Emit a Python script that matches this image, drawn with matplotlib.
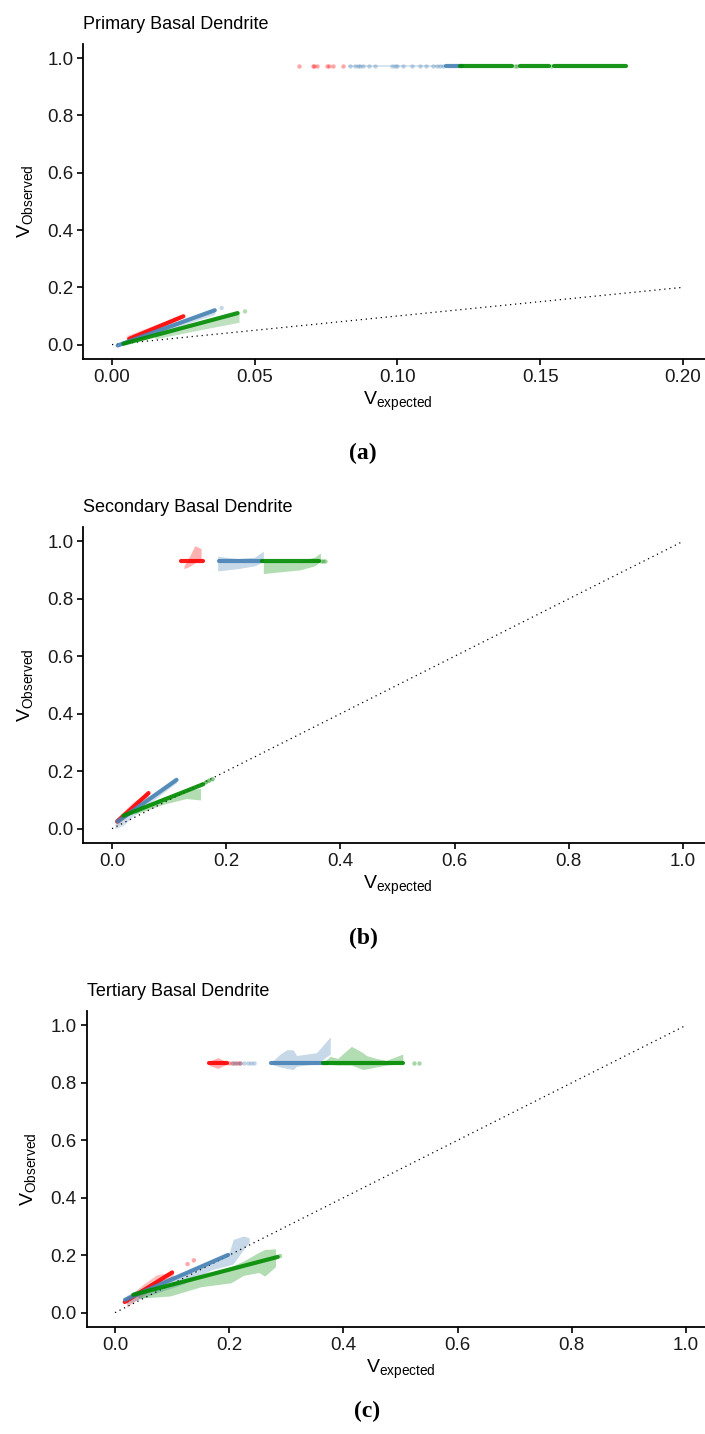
import matplotlib
matplotlib.use('Agg')
import matplotlib.pyplot as plt

plt.rcParams['font.family'] = ['Liberation Sans', 'DejaVu Sans']
plt.rcParams['mathtext.fontset'] = 'custom'
plt.rcParams['mathtext.rm'] = 'Liberation Sans'
plt.rcParams['mathtext.it'] = 'Liberation Sans:italic'

RED = '#FF0000'
BLUE = '#4682B4'
GREEN = '#008B00'

# ---------------- (a) Primary Basal Dendrite ----------------
a_title = 'Primary Basal Dendrite'
a_xticks = [0.00, 0.05, 0.10, 0.15, 0.20]
a_diag = [0.0, 0.2]
a_band_y = 0.972

a_red_low_x = [0.006, 0.025]
a_red_low_y = [0.020, 0.099]
a_blue_low_x = [0.002, 0.036]
a_blue_low_y = [-0.003, 0.120]
a_green_low_x = [0.004, 0.044]
a_green_low_y = [0.003, 0.110]
a_stray_x = [0.0384, 0.0466]
a_stray_y = [0.128, 0.116]
a_stray_c = [BLUE, GREEN]

a_red_rib_x = [0.005, 0.012, 0.024]
a_red_rib_lo = [0.008, 0.035, 0.090]
a_red_rib_hi = [0.032, 0.058, 0.102]
a_blue_rib_x = [0.010, 0.036]
a_blue_rib_lo = [0.020, 0.105]
a_blue_rib_hi = [0.035, 0.125]
a_green_rib_x = [0.015, 0.030, 0.0445]
a_green_rib_lo = [0.020, 0.050, 0.078]
a_green_rib_hi = [0.035, 0.075, 0.112]

a_red_dots = [0.0656, 0.0703, 0.0709, 0.0717, 0.0752, 0.0759, 0.0773, 0.0810]
a_blue_dots = [0.0834, 0.085, 0.086, 0.087, 0.088, 0.090, 0.092, 0.098, 0.099,
               0.100, 0.102, 0.105, 0.108, 0.110, 0.1125, 0.114, 0.115, 0.116]
a_blue_dense = [[0.117, 0.1225]]
a_blue_faint = [0.083, 0.122]
a_green_dense = [[0.122, 0.140], [0.143, 0.153], [0.155, 0.180]]
a_green_dots = [0.1412, 0.1420, 0.1538]

# ---------------- (b) Secondary Basal Dendrite ----------------
b_title = 'Secondary Basal Dendrite'
b_xticks = [0.0, 0.2, 0.4, 0.6, 0.8, 1.0]
b_diag = [0.0, 1.0]
b_band_y = 0.930

b_red_low_x = [0.009, 0.064]
b_red_low_y = [0.025, 0.124]
b_blue_low_x = [0.010, 0.113]
b_blue_low_y = [0.025, 0.170]
b_green_low_x = [0.020, 0.160]
b_green_low_y = [0.045, 0.155]
b_stray_x = [0.165, 0.170, 0.176]
b_stray_y = [0.162, 0.167, 0.172]
b_stray_c = [GREEN, GREEN, GREEN]

b_red_rib_x = [0.009, 0.035, 0.064]
b_red_rib_lo = [0.010, 0.060, 0.110]
b_red_rib_hi = [0.040, 0.090, 0.130]
b_blue_rib_x = [0.005, 0.020, 0.040, 0.080, 0.113]
b_blue_rib_lo = [0.000, 0.012, 0.050, 0.110, 0.160]
b_blue_rib_hi = [0.035, 0.050, 0.075, 0.130, 0.175]
b_green_rib_x = [0.040, 0.090, 0.130, 0.155]
b_green_rib_lo = [0.050, 0.085, 0.105, 0.100]
b_green_rib_hi = [0.070, 0.110, 0.135, 0.140]

b_red_dense = [[0.120, 0.159]]
b_red_dots = []
b_blue_dense = [[0.188, 0.262]]
b_blue_dots = []
b_green_dense = [[0.262, 0.362]]
b_green_dots = [0.366, 0.370, 0.373]

b_red_band_rib_x = [0.126, 0.135, 0.145, 0.156]
b_red_band_rib_lo = [0.905, 0.912, 0.925, 0.935]
b_red_band_rib_hi = [0.915, 0.945, 0.985, 0.975]
b_blue_band_rib_x = [0.185, 0.220, 0.250, 0.265]
b_blue_band_rib_lo = [0.897, 0.905, 0.915, 0.930]
b_blue_band_rib_hi = [0.948, 0.940, 0.945, 0.966]
b_green_band_rib_x = [0.265, 0.300, 0.330, 0.355, 0.365]
b_green_band_rib_lo = [0.888, 0.895, 0.901, 0.915, 0.930]
b_green_band_rib_hi = [0.930, 0.930, 0.932, 0.945, 0.960]

# ---------------- (c) Tertiary Basal Dendrite ----------------
c_title = 'Tertiary Basal Dendrite'
c_xticks = [0.0, 0.2, 0.4, 0.6, 0.8, 1.0]
c_diag = [0.0, 1.0]
c_band_y = 0.869

c_red_low_x = [0.017, 0.100]
c_red_low_y = [0.037, 0.140]
c_blue_low_x = [0.0175, 0.198]
c_blue_low_y = [0.045, 0.201]
c_green_low_x = [0.032, 0.285]
c_green_low_y = [0.0625, 0.194]
c_stray_x = [0.127, 0.138, 0.289]
c_stray_y = [0.169, 0.182, 0.197]
c_stray_c = [RED, RED, GREEN]

c_red_rib_x = [0.020, 0.050, 0.073, 0.102]
c_red_rib_lo = [0.020, 0.060, 0.090, 0.120]
c_red_rib_hi = [0.050, 0.100, 0.132, 0.142]
c_blue_rib_x = [0.020, 0.060, 0.120, 0.170, 0.200, 0.207, 0.225, 0.235]
c_blue_rib_lo = [0.030, 0.060, 0.100, 0.150, 0.165, 0.170, 0.220, 0.245]
c_blue_rib_hi = [0.060, 0.100, 0.140, 0.185, 0.210, 0.255, 0.267, 0.260]
c_green_rib_x = [0.040, 0.096, 0.150, 0.203, 0.225, 0.252, 0.262, 0.281]
c_green_rib_lo = [0.050, 0.058, 0.090, 0.104, 0.130, 0.140, 0.127, 0.160]
c_green_rib_hi = [0.070, 0.100, 0.130, 0.160, 0.180, 0.210, 0.220, 0.222]

c_red_dense = [[0.165, 0.196]]
c_red_dots = [0.200, 0.205, 0.210, 0.215, 0.219]
c_blue_dense = [[0.273, 0.371]]
c_blue_dots = [0.206, 0.212, 0.219, 0.225, 0.232, 0.238, 0.243]
c_green_dense = [[0.365, 0.505]]
c_green_dots = [0.524, 0.533]

c_red_band_rib_x = [0.165, 0.180, 0.196]
c_red_band_rib_lo = [0.860, 0.850, 0.865]
c_red_band_rib_hi = [0.875, 0.888, 0.872]
c_blue_band_rib_x = [0.274, 0.289, 0.301, 0.312, 0.318, 0.353, 0.377]
c_blue_band_rib_lo = [0.865, 0.855, 0.850, 0.846, 0.858, 0.866, 0.900]
c_blue_band_rib_hi = [0.872, 0.900, 0.915, 0.915, 0.895, 0.905, 0.960]
c_green_band_rib_x = [0.365, 0.377, 0.390, 0.414, 0.434, 0.440, 0.457, 0.475, 0.504]
c_green_band_rib_lo = [0.866, 0.864, 0.862, 0.862, 0.846, 0.848, 0.855, 0.862, 0.866]
c_green_band_rib_hi = [0.872, 0.892, 0.885, 0.927, 0.905, 0.895, 0.885, 0.878, 0.900]


def style_axes(ax, title, xticks, xlim):
    ax.set_xlim(*xlim)
    ax.set_ylim(-0.05, 1.05)
    ax.set_xticks(xticks)
    if xticks[1] < 0.1:
        ax.set_xticklabels([f'{t:.2f}' for t in xticks])
    else:
        ax.set_xticklabels([f'{t:.1f}' for t in xticks])
    ax.set_yticks([0.0, 0.2, 0.4, 0.6, 0.8, 1.0])
    ax.set_yticklabels([f'{t:.1f}' for t in [0.0, 0.2, 0.4, 0.6, 0.8, 1.0]])
    for s in ['top', 'right']:
        ax.spines[s].set_visible(False)
    for s in ['left', 'bottom']:
        ax.spines[s].set_linewidth(1.3)
    ax.tick_params(direction='out', length=4, width=1.2, labelsize=13.5,
                   colors='black', labelcolor='#1a1a1a', pad=3)
    ax.set_title(title, loc='left', fontsize=13, pad=11)
    ax.set_xlabel(r'$\mathrm{V}_{\mathrm{expected}}$', fontsize=14, labelpad=3)
    ax.set_ylabel(r'$\mathrm{V}_{\mathrm{Observed}}$', fontsize=14, labelpad=9)


def ribbon(ax, x, lo, hi, color, alpha=0.3):
    ax.fill_between(x, lo, hi, color=color, alpha=alpha, linewidth=0, zorder=1)


def band(ax, y, dense, dots, color, lw=3.0):
    for seg in dense:
        ax.plot(seg, [y, y], color=color, lw=lw, solid_capstyle='round',
                alpha=0.9, zorder=3)
    if dots:
        ax.scatter(dots, [y] * len(dots), s=10, color=color, alpha=0.35,
                   linewidths=0, zorder=3)


def low_line(ax, x, y, color, lw=3.0):
    ax.plot(x, y, color=color, lw=lw, solid_capstyle='round', alpha=0.9, zorder=3)


fig = plt.figure(figsize=(7.05, 14.34), dpi=100)

# ---- panel a
ax = fig.add_axes([0.1184, 0.7497, 0.8908, 0.2197])
ax.plot(a_diag, a_diag, color='black', lw=0.9, ls=(0, (1, 3)), zorder=2)
ribbon(ax, a_red_rib_x, a_red_rib_lo, a_red_rib_hi, RED, 0.2)
ribbon(ax, a_blue_rib_x, a_blue_rib_lo, a_blue_rib_hi, BLUE, 0.25)
ribbon(ax, a_green_rib_x, a_green_rib_lo, a_green_rib_hi, GREEN, 0.25)
low_line(ax, a_red_low_x, a_red_low_y, RED)
low_line(ax, a_blue_low_x, a_blue_low_y, BLUE)
low_line(ax, a_green_low_x, a_green_low_y, GREEN)
ax.scatter(a_stray_x, a_stray_y, s=10, c=a_stray_c, alpha=0.3, linewidths=0, zorder=3)
ax.plot(a_blue_faint, [a_band_y, a_band_y], color=BLUE, lw=1.2, alpha=0.25, zorder=2)
band(ax, a_band_y, [], a_red_dots, RED)
band(ax, a_band_y, a_blue_dense, a_blue_dots, BLUE)
band(ax, a_band_y, a_green_dense, a_green_dots, GREEN)
style_axes(ax, a_title, a_xticks, (-0.01, 0.21))

# ---- panel b
ax = fig.add_axes([0.1184, 0.4121, 0.8908, 0.2204])
ax.plot(b_diag, b_diag, color='black', lw=0.9, ls=(0, (1, 3)), zorder=2)
ribbon(ax, b_red_rib_x, b_red_rib_lo, b_red_rib_hi, RED, 0.2)
ribbon(ax, b_blue_rib_x, b_blue_rib_lo, b_blue_rib_hi, BLUE, 0.25)
ribbon(ax, b_green_rib_x, b_green_rib_lo, b_green_rib_hi, GREEN, 0.3)
ribbon(ax, b_red_band_rib_x, b_red_band_rib_lo, b_red_band_rib_hi, RED, 0.3)
ribbon(ax, b_blue_band_rib_x, b_blue_band_rib_lo, b_blue_band_rib_hi, BLUE, 0.3)
ribbon(ax, b_green_band_rib_x, b_green_band_rib_lo, b_green_band_rib_hi, GREEN, 0.3)
low_line(ax, b_red_low_x, b_red_low_y, RED)
low_line(ax, b_blue_low_x, b_blue_low_y, BLUE)
low_line(ax, b_green_low_x, b_green_low_y, GREEN)
ax.scatter(b_stray_x, b_stray_y, s=10, c=b_stray_c, alpha=0.5, linewidths=0, zorder=3)
band(ax, b_band_y, b_red_dense, b_red_dots, RED)
band(ax, b_band_y, b_blue_dense, b_blue_dots, BLUE)
band(ax, b_band_y, b_green_dense, b_green_dots, GREEN)
style_axes(ax, b_title, b_xticks, (-0.05, 1.05))

# ---- panel c
ax = fig.add_axes([0.1227, 0.0746, 0.8908, 0.2204])
ax.plot(c_diag, c_diag, color='black', lw=0.9, ls=(0, (1, 3)), zorder=2)
ribbon(ax, c_red_rib_x, c_red_rib_lo, c_red_rib_hi, RED, 0.25)
ribbon(ax, c_blue_rib_x, c_blue_rib_lo, c_blue_rib_hi, BLUE, 0.3)
ribbon(ax, c_green_rib_x, c_green_rib_lo, c_green_rib_hi, GREEN, 0.3)
ribbon(ax, c_red_band_rib_x, c_red_band_rib_lo, c_red_band_rib_hi, RED, 0.3)
ribbon(ax, c_blue_band_rib_x, c_blue_band_rib_lo, c_blue_band_rib_hi, BLUE, 0.3)
ribbon(ax, c_green_band_rib_x, c_green_band_rib_lo, c_green_band_rib_hi, GREEN, 0.3)
low_line(ax, c_red_low_x, c_red_low_y, RED)
low_line(ax, c_blue_low_x, c_blue_low_y, BLUE)
low_line(ax, c_green_low_x, c_green_low_y, GREEN)
ax.scatter(c_stray_x, c_stray_y, s=10, c=c_stray_c, alpha=0.35, linewidths=0, zorder=3)
band(ax, c_band_y, c_red_dense, c_red_dots, RED)
band(ax, c_band_y, c_blue_dense, c_blue_dots, BLUE)
band(ax, c_band_y, c_green_dense, c_green_dots, GREEN)
style_axes(ax, c_title, c_xticks, (-0.05, 1.05))

# captions
for label, xf, yf in [('(a)', 0.514, 0.684), ('(b)', 0.515, 0.3459), ('(c)', 0.520, 0.0160)]:
    fig.text(xf, yf, label, ha='center', va='center', fontsize=17,
             fontweight='bold', family=['Liberation Serif', 'DejaVu Serif'])

fig.savefig('out.png', dpi=100)
